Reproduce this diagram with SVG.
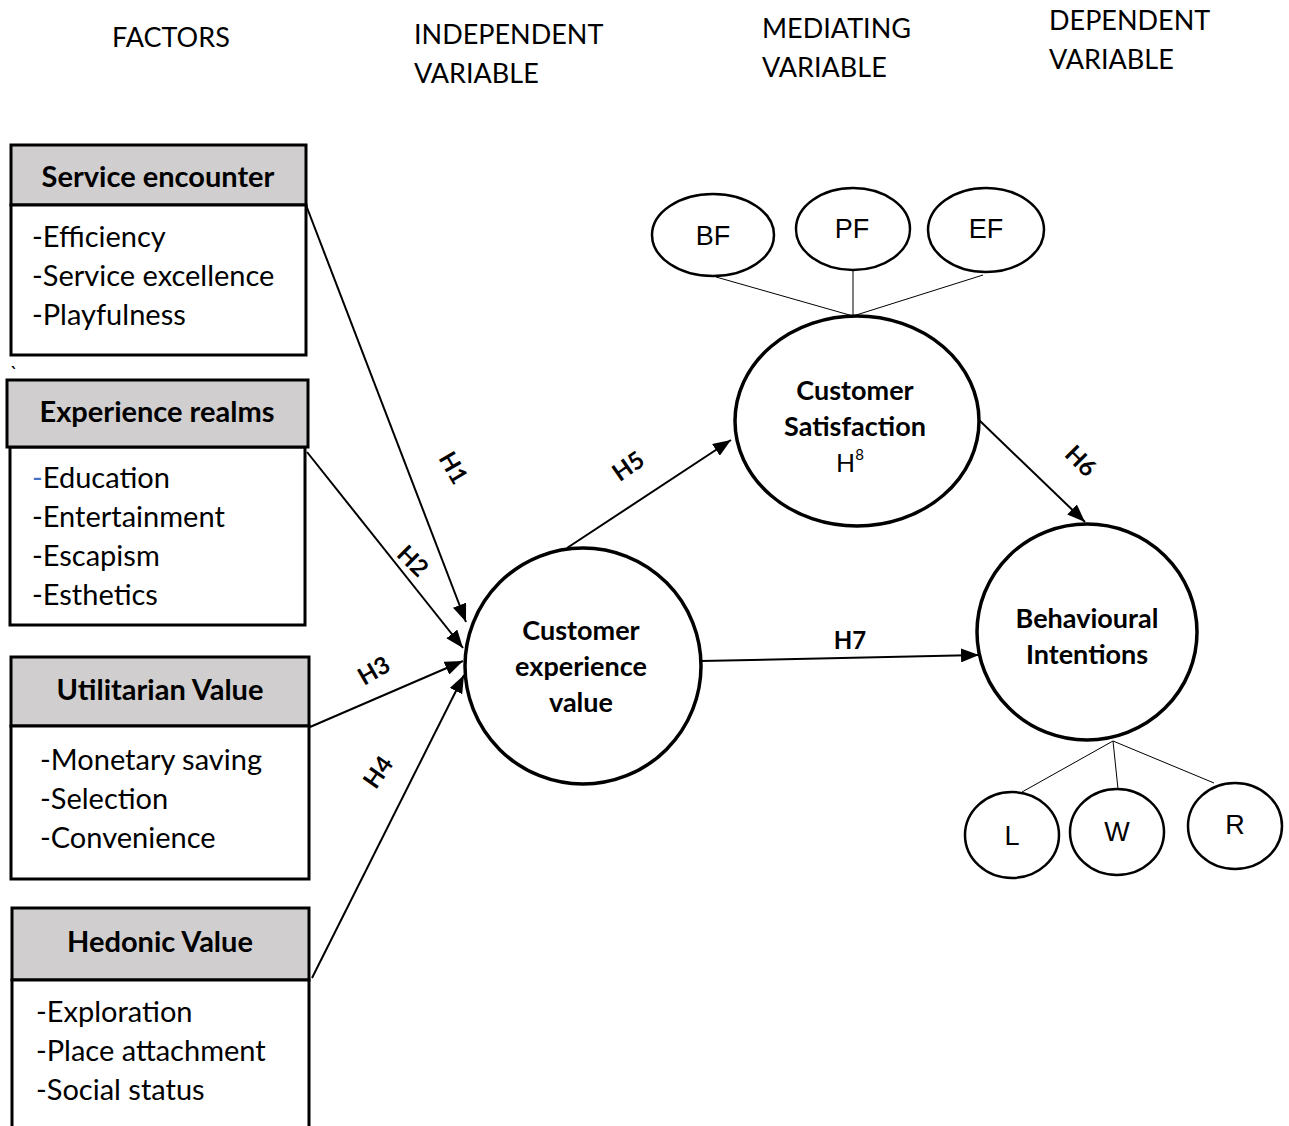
<svg xmlns="http://www.w3.org/2000/svg" width="1289" height="1126" viewBox="0 0 1289 1126">
  <style>
    .col { font-family: Lato, "Open Sans", sans-serif; font-size: 27px; fill: #000; }
    .hdr { fill: #d0cece; stroke: #000; stroke-width: 3; }
    .body { fill: #fff; stroke: #000; stroke-width: 3; }
    .htxt { font-family: Lato, "Open Sans", sans-serif; font-size: 29px; font-weight: bold; text-anchor: middle; }
    .item { font-family: Lato, "Open Sans", sans-serif; font-size: 29px; }
    .big { fill: #fff; stroke: #000; stroke-width: 3.5; }
    .btxt { font-family: Lato, "Open Sans", sans-serif; font-size: 27px; font-weight: bold; text-anchor: middle; }
    .small { fill: #fff; stroke: #000; stroke-width: 2.5; }
    .stxt { font-family: "Liberation Sans", Arial, sans-serif; font-size: 27px; text-anchor: middle; }
    .arrow { stroke: #000; stroke-width: 2; fill: none; marker-end: url(#tip); }
    .thin { stroke: #000; stroke-width: 1; fill: none; }
    .lbl { font-family: Lato, "Open Sans", sans-serif; font-size: 24px; font-weight: bold; text-anchor: middle; }
  </style>
  <defs>
    <marker id="tip" markerUnits="userSpaceOnUse" markerWidth="20" markerHeight="14" refX="18" refY="7" orient="auto">
      <path d="M0,0 L18,7 L0,14 Z" fill="#000"/>
    </marker>
  </defs>

  <rect width="1289" height="1126" fill="#fff"/>

  <!-- column headings -->
  <g id="headings">
    <text class="col" x="112" y="47">FACTORS</text>
    <text class="col" x="414" y="44">INDEPENDENT</text>
    <text class="col" x="414" y="83">VARIABLE</text>
    <text class="col" x="762" y="38">MEDIATING</text>
    <text class="col" x="762" y="77">VARIABLE</text>
    <text class="col" x="1049" y="30">DEPENDENT</text>
    <text class="col" x="1049" y="69">VARIABLE</text>
  </g>

  <!-- factor boxes -->
  <g id="service-encounter">
    <rect class="hdr" x="11" y="145" width="295" height="60"/>
    <rect class="body" x="11" y="205" width="295" height="150"/>
    <text class="htxt" x="158" y="187">Service encounter</text>
    <text class="item" x="32" y="247">-Efficiency</text>
    <text class="item" x="32" y="286">-Service excellence</text>
    <text class="item" x="32" y="325">-Playfulness</text>
  </g>

  <text class="item" x="10" y="380" style="font-size:20px">`</text>

  <g id="experience-realms">
    <rect class="body" x="10" y="447" width="295" height="178"/>
    <rect class="hdr" x="7" y="380" width="301" height="67"/>
    <text class="htxt" x="157" y="422">Experience realms</text>
    <text class="item" x="32" y="488"><tspan fill="#4472c4">-</tspan>Education</text>
    <text class="item" x="32" y="527">-Entertainment</text>
    <text class="item" x="32" y="566">-Escapism</text>
    <text class="item" x="32" y="605">-Esthetics</text>
  </g>

  <g id="utilitarian-value">
    <rect class="hdr" x="11" y="657" width="298" height="69"/>
    <rect class="body" x="11" y="726" width="298" height="153"/>
    <text class="htxt" x="160" y="700">Utilitarian Value</text>
    <text class="item" x="40" y="770">-Monetary saving</text>
    <text class="item" x="40" y="809">-Selection</text>
    <text class="item" x="40" y="848">-Convenience</text>
  </g>

  <g id="hedonic-value">
    <rect class="hdr" x="12" y="908" width="297" height="72"/>
    <rect class="body" x="12" y="980" width="297" height="160"/>
    <text class="htxt" x="160" y="952">Hedonic Value</text>
    <text class="item" x="36" y="1022">-Exploration</text>
    <text class="item" x="36" y="1061">-Place attachment</text>
    <text class="item" x="36" y="1100">-Social status</text>
  </g>

  <!-- connectors -->
  <g id="connectors">
    <line class="arrow" x1="306" y1="205" x2="466" y2="622"/>
    <line class="arrow" x1="307" y1="452" x2="463" y2="648"/>
    <line class="arrow" x1="310" y1="727" x2="463" y2="661"/>
    <line class="arrow" x1="312" y1="978" x2="464" y2="675"/>
    <line class="arrow" x1="567" y1="548" x2="731" y2="440"/>
    <line class="arrow" x1="979" y1="420" x2="1085" y2="522"/>
    <line class="arrow" x1="701" y1="661" x2="979" y2="655"/>
    <line class="thin" x1="716" y1="277" x2="853" y2="316"/>
    <line class="thin" x1="853" y1="271" x2="853" y2="316"/>
    <line class="thin" x1="983" y1="275" x2="853" y2="316"/>
    <line class="thin" x1="1113" y1="741" x2="1022" y2="792"/>
    <line class="thin" x1="1113" y1="741" x2="1118" y2="789"/>
    <line class="thin" x1="1113" y1="741" x2="1214" y2="783"/>
    <text class="lbl" transform="translate(446,472) rotate(60)">H1</text>
    <text class="lbl" transform="translate(407,567) rotate(45)">H2</text>
    <text class="lbl" transform="translate(378,678) rotate(-30)">H3</text>
    <text class="lbl" transform="translate(385,777) rotate(-55)">H4</text>
    <text class="lbl" transform="translate(633,473) rotate(-35)">H5</text>
    <text class="lbl" transform="translate(1075,467) rotate(45)">H6</text>
    <text class="lbl" x="850" y="649">H7</text>
  </g>

  <!-- constructs -->
  <g id="customer-experience-value">
    <ellipse class="big" cx="583" cy="666" rx="118" ry="118"/>
    <text class="btxt" x="581" y="640">Customer</text>
    <text class="btxt" x="581" y="676">experience</text>
    <text class="btxt" x="581" y="712">value</text>
  </g>

  <g id="customer-satisfaction">
    <ellipse class="big" cx="857" cy="421" rx="122" ry="105"/>
    <text class="btxt" x="855" y="400">Customer</text>
    <text class="btxt" x="855" y="436">Satisfaction</text>
    <text class="btxt" x="850" y="472" style="font-weight:normal;font-size:25px">H<tspan dy="-12" style="font-size:15px">8</tspan></text>
  </g>

  <g id="behavioural-intentions">
    <ellipse class="big" cx="1087" cy="632" rx="110" ry="108"/>
    <text class="btxt" x="1087" y="628">Behavioural</text>
    <text class="btxt" x="1087" y="664">Intentions</text>
  </g>

  <g id="bf">
    <ellipse class="small" cx="713" cy="235" rx="61" ry="41"/>
    <text class="stxt" x="713" y="245">BF</text>
  </g>
  <g id="pf">
    <ellipse class="small" cx="853" cy="229" rx="57" ry="41"/>
    <text class="stxt" x="852" y="238">PF</text>
  </g>
  <g id="ef">
    <ellipse class="small" cx="986" cy="230" rx="58" ry="42"/>
    <text class="stxt" x="986" y="238">EF</text>
  </g>

  <g id="l">
    <ellipse class="small" cx="1012" cy="835" rx="47" ry="43"/>
    <text class="stxt" x="1012" y="845">L</text>
  </g>
  <g id="w">
    <ellipse class="small" cx="1117" cy="832" rx="47" ry="43"/>
    <text class="stxt" x="1117" y="841">W</text>
  </g>
  <g id="r">
    <ellipse class="small" cx="1235" cy="826" rx="47" ry="43"/>
    <text class="stxt" x="1235" y="834">R</text>
  </g>
</svg>
